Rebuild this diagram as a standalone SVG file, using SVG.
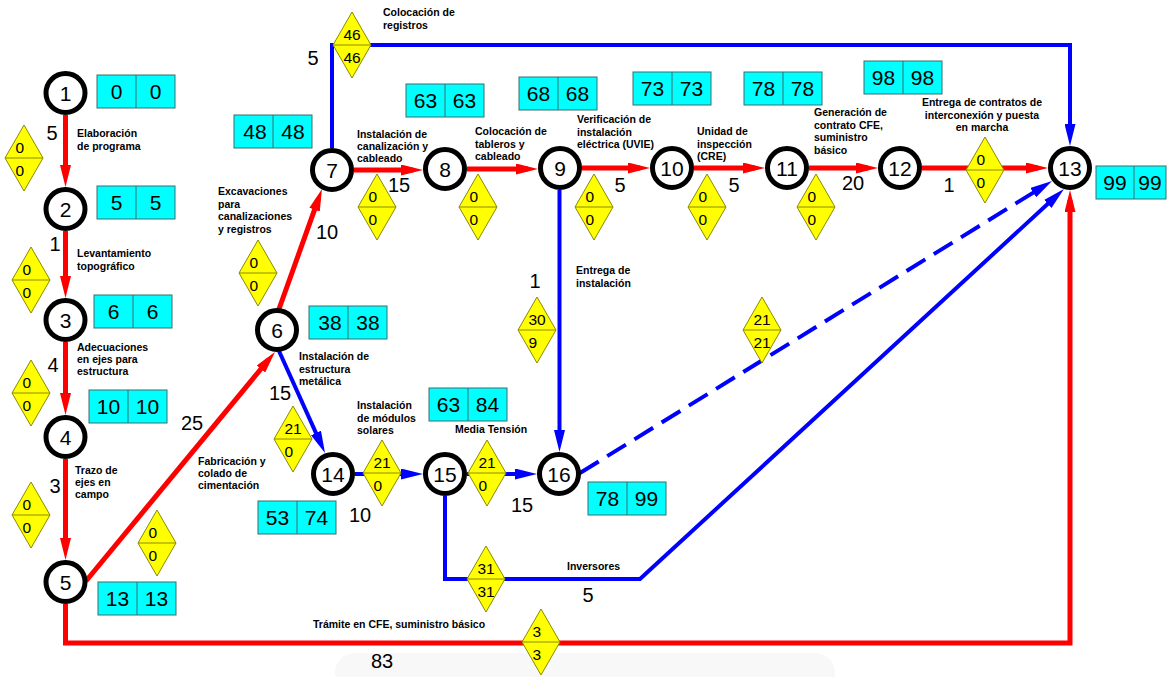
<svg xmlns="http://www.w3.org/2000/svg" width="1167" height="677" viewBox="0 0 1167 677">
<style>
text{font-family:"Liberation Sans",Arial,sans-serif;fill:#000}
.nc{fill:#fff;stroke:#000;stroke-width:5}
.nt{font-size:21px;text-anchor:middle}
.bx{fill:#00FFFF;stroke:#3A6E6E;stroke-width:1}
.bd{stroke:#3A6E6E;stroke-width:1}
.bt{font-size:21px;text-anchor:middle}
.dt{font-size:15.5px}
.lb{font-size:10.5px;font-weight:bold}
.lbc{font-size:10.5px;font-weight:bold;text-anchor:middle}
.du{font-size:20px;text-anchor:middle}
.r{fill:none;stroke:#FF0000;stroke-width:5;marker-end:url(#ar)}
.b{fill:none;stroke:#0000FF;stroke-width:4;marker-end:url(#ab)}
.dash{stroke-dasharray:22 10}
</style>
<defs>
<marker id="ar" markerUnits="userSpaceOnUse" markerWidth="22" markerHeight="11" refX="12" refY="5.5" orient="auto"><path d="M0,0 L22,5.5 L0,11 z" fill="#FF0000"/></marker>
<marker id="ab" markerUnits="userSpaceOnUse" markerWidth="22" markerHeight="11" refX="12" refY="5.5" orient="auto"><path d="M0,0 L22,5.5 L0,11 z" fill="#0000FF"/></marker>
<g id="dm"><polygon points="0,-33 19,0 0,33 -19,0" fill="#FFFF00" stroke="#8A8A00" stroke-width="1"/><line x1="-19" y1="0" x2="19" y2="0" stroke="#8A8A00" stroke-width="1"/></g>
<g id="bxs"><rect class="bx" x="0" y="0" width="78" height="33"/><line class="bd" x1="39" y1="0" x2="39" y2="33"/></g>
</defs>

<rect x="335" y="653" width="500" height="40" rx="20" fill="#f8f8f8"/>

<g id="connectors">
<path class="r" d="M65.5,115 V177"/>
<path class="r" d="M65.5,231 V288"/>
<path class="r" d="M65.5,342 V405"/>
<path class="r" d="M65.5,459 V550"/>
<path class="r" d="M86,581 L268.6,359.7"/>
<path class="r" d="M65.5,604 V643 H1070 V200"/>
<path class="r" d="M279,309 L318.6,198.4"/>
<path class="r" d="M354,170 H413"/>
<path class="r" d="M467,169 H528"/>
<path class="r" d="M582,168 H640"/>
<path class="r" d="M694,168 H755"/>
<path class="r" d="M809,168 H868"/>
<path class="r" d="M922,168 H1038"/>
<path class="b" d="M332,148 V45 H1070 V136"/>
<path class="b" d="M279,351 L320.9,443.9"/>
<path class="b" d="M559.5,190 V442"/>
<path class="b" d="M355,474 H413"/>
<path class="b" d="M467,474 H527"/>
<path class="b" d="M445,496 V579 H640 L1056.6,195.8"/>
<path class="b dash" d="M580,473 L1043.5,186.3"/>
</g>

<g id="floats">
<g transform="translate(24,158)"><use href="#dm"/><text class="dt" x="-8.6" y="-5">0</text><text class="dt" x="-8.6" y="18">0</text></g>
<g transform="translate(31,280)"><use href="#dm"/><text class="dt" x="-8.6" y="-5">0</text><text class="dt" x="-8.6" y="18">0</text></g>
<g transform="translate(31,393)"><use href="#dm"/><text class="dt" x="-8.6" y="-5">0</text><text class="dt" x="-8.6" y="18">0</text></g>
<g transform="translate(31,515)"><use href="#dm"/><text class="dt" x="-8.6" y="-5">0</text><text class="dt" x="-8.6" y="18">0</text></g>
<g transform="translate(157,543)"><use href="#dm"/><text class="dt" x="-8.6" y="-5">0</text><text class="dt" x="-8.6" y="18">0</text></g>
<g transform="translate(258,273)"><use href="#dm"/><text class="dt" x="-8.6" y="-5">0</text><text class="dt" x="-8.6" y="18">0</text></g>
<g transform="translate(352,45)"><use href="#dm"/><text class="dt" x="-8.6" y="-5">46</text><text class="dt" x="-8.6" y="18">46</text></g>
<g transform="translate(377,207)"><use href="#dm"/><text class="dt" x="-8.6" y="-5">0</text><text class="dt" x="-8.6" y="18">0</text></g>
<g transform="translate(478,207)"><use href="#dm"/><text class="dt" x="-8.6" y="-5">0</text><text class="dt" x="-8.6" y="18">0</text></g>
<g transform="translate(594,207)"><use href="#dm"/><text class="dt" x="-8.6" y="-5">0</text><text class="dt" x="-8.6" y="18">0</text></g>
<g transform="translate(707,207)"><use href="#dm"/><text class="dt" x="-8.6" y="-5">0</text><text class="dt" x="-8.6" y="18">0</text></g>
<g transform="translate(816,207)"><use href="#dm"/><text class="dt" x="-8.6" y="-5">0</text><text class="dt" x="-8.6" y="18">0</text></g>
<g transform="translate(985,170)"><use href="#dm"/><text class="dt" x="-8.6" y="-5">0</text><text class="dt" x="-8.6" y="18">0</text></g>
<g transform="translate(537,330)"><use href="#dm"/><text class="dt" x="-8.6" y="-5">30</text><text class="dt" x="-8.6" y="18">9</text></g>
<g transform="translate(762,330)"><use href="#dm"/><text class="dt" x="-8.6" y="-5">21</text><text class="dt" x="-8.6" y="18">21</text></g>
<g transform="translate(293,439)"><use href="#dm"/><text class="dt" x="-8.6" y="-5">21</text><text class="dt" x="-8.6" y="18">0</text></g>
<g transform="translate(382,473)"><use href="#dm"/><text class="dt" x="-8.6" y="-5">21</text><text class="dt" x="-8.6" y="18">0</text></g>
<g transform="translate(487,473)"><use href="#dm"/><text class="dt" x="-8.6" y="-5">21</text><text class="dt" x="-8.6" y="18">0</text></g>
<g transform="translate(486,579)"><use href="#dm"/><text class="dt" x="-8.6" y="-5">31</text><text class="dt" x="-8.6" y="18">31</text></g>
<g transform="translate(541,642)"><use href="#dm"/><text class="dt" x="-8.6" y="-5">3</text><text class="dt" x="-8.6" y="18">3</text></g>
</g>

<g id="times">
<g transform="translate(97,75)"><use href="#bxs"/><text class="bt" x="19.5" y="24">0</text><text class="bt" x="58.5" y="24">0</text></g>
<g transform="translate(97,186)"><use href="#bxs"/><text class="bt" x="19.5" y="24">5</text><text class="bt" x="58.5" y="24">5</text></g>
<g transform="translate(94,295)"><use href="#bxs"/><text class="bt" x="19.5" y="24">6</text><text class="bt" x="58.5" y="24">6</text></g>
<g transform="translate(89,390)"><use href="#bxs"/><text class="bt" x="19.5" y="24">10</text><text class="bt" x="58.5" y="24">10</text></g>
<g transform="translate(98,582)"><use href="#bxs"/><text class="bt" x="19.5" y="24">13</text><text class="bt" x="58.5" y="24">13</text></g>
<g transform="translate(234,115)"><use href="#bxs"/><text class="bt" x="21" y="24">48</text><text class="bt" x="59" y="24">48</text></g>
<g transform="translate(406,84)"><use href="#bxs"/><text class="bt" x="19.5" y="24">63</text><text class="bt" x="58.5" y="24">63</text></g>
<g transform="translate(519,77)"><use href="#bxs"/><text class="bt" x="19.5" y="24">68</text><text class="bt" x="58.5" y="24">68</text></g>
<g transform="translate(633,72)"><use href="#bxs"/><text class="bt" x="19.5" y="24">73</text><text class="bt" x="58.5" y="24">73</text></g>
<g transform="translate(744,72)"><use href="#bxs"/><text class="bt" x="19.5" y="24">78</text><text class="bt" x="58.5" y="24">78</text></g>
<g transform="translate(864,61)"><use href="#bxs"/><text class="bt" x="19.5" y="24">98</text><text class="bt" x="58.5" y="24">98</text></g>
<g transform="translate(1096,166)"><rect class="bx" x="0" y="0" width="70" height="33"/><line class="bd" x1="38" y1="0" x2="38" y2="33"/><text class="bt" x="19" y="24">99</text><text class="bt" x="54" y="24">99</text></g>
<g transform="translate(309,306)"><use href="#bxs"/><text class="bt" x="21" y="24">38</text><text class="bt" x="59" y="24">38</text></g>
<g transform="translate(429,388)"><use href="#bxs"/><text class="bt" x="19.5" y="24">63</text><text class="bt" x="58.5" y="24">84</text></g>
<g transform="translate(258,501)"><use href="#bxs"/><text class="bt" x="19.5" y="24">53</text><text class="bt" x="58.5" y="24">74</text></g>
<g transform="translate(588,482)"><use href="#bxs"/><text class="bt" x="19.5" y="24">78</text><text class="bt" x="58.5" y="24">99</text></g>
</g>

<g id="durations">
<text class="du" x="52" y="140">5</text>
<text class="du" x="55" y="251">1</text>
<text class="du" x="53" y="372">4</text>
<text class="du" x="55" y="493">3</text>
<text class="du" x="192" y="430">25</text>
<text class="du" x="327" y="239">10</text>
<text class="du" x="313" y="65">5</text>
<text class="du" x="399" y="192">15</text>
<text class="du" x="620" y="192">5</text>
<text class="du" x="734" y="192">5</text>
<text class="du" x="853" y="190">20</text>
<text class="du" x="949" y="192">1</text>
<text class="du" x="535" y="288">1</text>
<text class="du" x="280" y="400">15</text>
<text class="du" x="360" y="522">10</text>
<text class="du" x="522" y="512">15</text>
<text class="du" x="588" y="602">5</text>
<text class="du" x="382" y="668">83</text>
</g>

<g id="labels">
<text class="lb" x="77" y="137">Elaboración</text><text class="lb" x="77" y="149.5">de programa</text>
<text class="lb" x="77" y="257">Levantamiento</text><text class="lb" x="77" y="269.5">topográfico</text>
<text class="lb" x="77" y="351">Adecuaciones</text><text class="lb" x="77" y="363">en ejes para</text><text class="lb" x="77" y="375">estructura</text>
<text class="lb" x="75" y="474">Trazo de</text><text class="lb" x="75" y="486">ejes en</text><text class="lb" x="75" y="498">campo</text>
<text class="lb" x="198" y="465">Fabricación y</text><text class="lb" x="198" y="477">colado de</text><text class="lb" x="198" y="489">cimentación</text>
<text class="lb" x="218" y="195">Excavaciones</text><text class="lb" x="218" y="207.5">para</text><text class="lb" x="218" y="220">canalizaciones</text><text class="lb" x="218" y="232.5">y registros</text>
<text class="lb" x="383" y="16">Colocación de</text><text class="lb" x="383" y="28.5">registros</text>
<text class="lb" x="357" y="138">Instalación de</text><text class="lb" x="357" y="150">canalización y</text><text class="lb" x="357" y="162">cableado</text>
<text class="lb" x="475" y="135">Colocación de</text><text class="lb" x="475" y="147.5">tableros y</text><text class="lb" x="475" y="160">cableado</text>
<text class="lb" x="577" y="123">Verificación de</text><text class="lb" x="577" y="135.5">instalación</text><text class="lb" x="577" y="148">eléctrica (UVIE)</text>
<text class="lb" x="697" y="135">Unidad de</text><text class="lb" x="697" y="147.5">inspección</text><text class="lb" x="697" y="160">(CRE)</text>
<text class="lb" x="814" y="116">Generación de</text><text class="lb" x="814" y="128.5">contrato CFE,</text><text class="lb" x="814" y="141">suministro</text><text class="lb" x="814" y="153.5">básico</text>
<text class="lbc" x="982" y="106">Entrega de contratos de</text><text class="lbc" x="982" y="118.5">interconexión y puesta</text><text class="lbc" x="982" y="131">en marcha</text>
<text class="lb" x="299" y="360">Instalación de</text><text class="lb" x="299" y="372.5">estructura</text><text class="lb" x="299" y="385">metálica</text>
<text class="lb" x="357" y="409">Instalación</text><text class="lb" x="357" y="421.5">de módulos</text><text class="lb" x="357" y="434">solares</text>
<text class="lb" x="455" y="433">Media Tensión</text>
<text class="lb" x="576" y="274">Entrega de</text><text class="lb" x="576" y="286.5">instalación</text>
<text class="lb" x="567" y="570">Inversores</text>
<text class="lb" x="313" y="628">Trámite en CFE, suministro básico</text>
</g>

<g id="n1"><circle class="nc" cx="65.5" cy="93" r="19.5"/><text class="nt" x="65.5" y="100.5">1</text></g>
<g id="n2"><circle class="nc" cx="65.5" cy="209" r="19.5"/><text class="nt" x="65.5" y="216.5">2</text></g>
<g id="n3"><circle class="nc" cx="65.5" cy="320" r="19.5"/><text class="nt" x="65.5" y="327.5">3</text></g>
<g id="n4"><circle class="nc" cx="65.5" cy="437" r="19.5"/><text class="nt" x="65.5" y="444.5">4</text></g>
<g id="n5"><circle class="nc" cx="65.5" cy="582" r="19.5"/><text class="nt" x="65.5" y="589.5">5</text></g>
<g id="n6"><circle class="nc" cx="277" cy="330" r="19.5"/><text class="nt" x="277" y="337.5">6</text></g>
<g id="n7"><circle class="nc" cx="332" cy="170" r="19.5"/><text class="nt" x="332" y="177.5">7</text></g>
<g id="n8"><circle class="nc" cx="445" cy="169" r="19.5"/><text class="nt" x="445" y="176.5">8</text></g>
<g id="n9"><circle class="nc" cx="560" cy="168" r="19.5"/><text class="nt" x="560" y="175.5">9</text></g>
<g id="n10"><circle class="nc" cx="672" cy="168" r="19.5"/><text class="nt" x="672" y="175.5">10</text></g>
<g id="n11"><circle class="nc" cx="787" cy="168" r="19.5"/><text class="nt" x="787" y="175.5">11</text></g>
<g id="n12"><circle class="nc" cx="900" cy="168" r="19.5"/><text class="nt" x="900" y="175.5">12</text></g>
<g id="n13"><circle class="nc" cx="1070" cy="168" r="19.5"/><text class="nt" x="1070" y="175.5">13</text></g>
<g id="n14"><circle class="nc" cx="333" cy="474" r="19.5"/><text class="nt" x="333" y="481.5">14</text></g>
<g id="n15"><circle class="nc" cx="445" cy="474" r="19.5"/><text class="nt" x="445" y="481.5">15</text></g>
<g id="n16"><circle class="nc" cx="559" cy="474" r="19.5"/><text class="nt" x="559" y="481.5">16</text></g>
</svg>
